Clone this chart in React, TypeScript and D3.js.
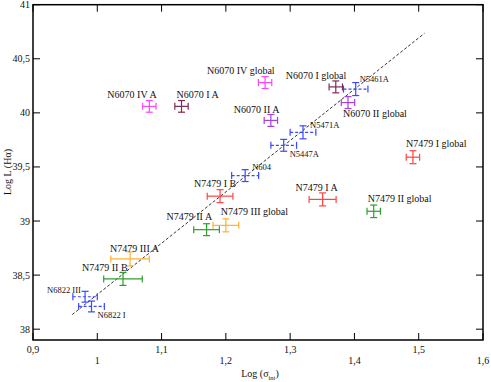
import React from 'react';
import * as d3 from 'd3';

// Log(sigma_int) vs Log L(H-alpha) for HII regions
const names = [
  'N6822 III', 'N6822 I', 'N604', 'N5447A', 'N5471A', 'N5461A',
  'N6070 IV A', 'N6070 I A', 'N6070 IV global', 'N6070 II A', 'N6070 I global', 'N6070 II global',
  'N7479 I global', 'N7479 I A', 'N7479 II global', 'N7479 I B', 'N7479 II A', 'N7479 III global',
  'N7479 III A', 'N7479 II B',
];
const logSigma = [0.981, 0.991, 1.230, 1.290, 1.320, 1.402, 1.081, 1.131, 1.261, 1.270, 1.371, 1.390, 1.491, 1.3505, 1.430, 1.191, 1.170, 1.200, 1.051, 1.040];
const logSigmaErr = [0.019, 0.02, 0.021, 0.02, 0.02, 0.019, 0.0104, 0.0104, 0.0104, 0.0104, 0.0104, 0.0104, 0.0104, 0.021, 0.0104, 0.02, 0.02, 0.02, 0.03, 0.03];
const logL = [38.30, 38.21, 39.42, 39.70, 39.82, 40.22, 40.06, 40.06, 40.28, 39.93, 40.24, 40.095, 39.59, 39.20, 39.09, 39.23, 38.92, 38.96, 38.65, 38.465];
const logLErr = [0.05, 0.05, 0.055, 0.055, 0.06, 0.06, 0.054, 0.054, 0.055, 0.055, 0.055, 0.055, 0.06, 0.06, 0.058, 0.06, 0.055, 0.06, 0.065, 0.06];
const groups = [
  'blue', 'blue', 'blue', 'blue', 'blue', 'blue',
  'n6070iv', 'n6070i', 'n6070iv', 'n6070ii', 'n6070i', 'n6070ii',
  'red', 'red', 'green', 'red', 'green', 'orange', 'orange', 'green',
];

// dashed fit line end points
const fitX = [0.961, 1.509];
const fitY = [38.135, 40.736];

const xTicks = [0.9, 1, 1.1, 1.2, 1.3, 1.4, 1.5, 1.6];
const yTicks = [38, 38.5, 39, 39.5, 40, 40.5, 41];

// label offsets in px from the point (text start, baseline)
const labelOffsets: [number, number][] = [
  [-38, -4], [6, 12], [7, -6], [6, 12], [7, -4], [4, -7],
  [-42, -8], [-5, -8], [-58, -9], [-37, -7], [-50, -8], [-5, 14],
  [-7, -10], [-27, -8], [-6, -9], [-26, -9], [-40, -10], [-5, -10],
  [-20, -7], [-41, -8],
];

const colors: Record<string, string> = {
  blue: '#3a48ff',
  n6070iv: '#ff44ff',
  n6070i: '#7f2a55',
  n6070ii: '#a83ee0',
  red: '#ff4444',
  green: '#2e9e2e',
  orange: '#ffb133',
};

const W = 491;
const H = 382;
const margin = { top: 4.7, right: 8, bottom: 42, left: 33 };
const fmt = (d: number) => String(d).replace('.', ',');

export default function App() {
  const x = d3.scaleLinear().domain([0.9, 1.6]).range([margin.left, W - margin.right]);
  const y = d3.scaleLinear().domain([37.9, 41]).range([H - margin.bottom, margin.top]);
  const x0 = margin.left, x1 = W - margin.right, y0 = H - margin.bottom, y1 = margin.top;
  const tick = 7;
  const font = 'Liberation Serif, Times New Roman, serif';

  const fitLine = d3.line<number>().x((d, i) => x(fitX[i])).y((d, i) => y(fitY[i]));

  return (
    <div style={{ position: 'fixed', left: 0, top: 0, background: 'white' }}>
      <svg width={W} height={H} style={{ display: 'block', fontFamily: font }}>
        <rect width={W} height={H} fill="white" />

        {/* fit */}
        <path d={fitLine(fitX) || ''} fill="none" stroke="#333" strokeWidth={1} strokeDasharray="3,2" />

        {/* error crosses */}
        {names.map((n, i) => {
          const cx = x(logSigma[i]);
          const cy = y(logL[i]);
          const xl = x(logSigma[i] - logSigmaErr[i]);
          const xr = x(logSigma[i] + logSigmaErr[i]);
          const yt = y(logL[i] + logLErr[i]);
          const yb = y(logL[i] - logLErr[i]);
          const c = colors[groups[i]];
          const dash = groups[i] === 'blue' ? '3,2' : undefined;
          const cap = 3.5;
          return (
            <g key={n} stroke={c} strokeWidth={1.2} fill="none">
              <line x1={xl} x2={xr} y1={cy} y2={cy} strokeDasharray={dash} />
              <line x1={cx} x2={cx} y1={yt} y2={yb} />
              <line x1={xl} x2={xl} y1={cy - cap} y2={cy + cap} />
              <line x1={xr} x2={xr} y1={cy - cap} y2={cy + cap} />
              <line x1={cx - cap} x2={cx + cap} y1={yt} y2={yt} />
              <line x1={cx - cap} x2={cx + cap} y1={yb} y2={yb} />
            </g>
          );
        })}

        {/* labels */}
        {names.map((n, i) => (
          <text
            key={'l' + n}
            x={x(logSigma[i]) + labelOffsets[i][0]}
            y={y(logL[i]) + labelOffsets[i][1]}
            fontSize={groups[i] === 'blue' ? 8.5 : 10}
            fill="#111"
          >
            {n}
          </text>
        ))}

        {/* frame */}
        <rect x={x0} y={y1} width={x1 - x0} height={y0 - y1} fill="none" stroke="#000" strokeWidth={1.5} />

        {/* x ticks */}
        {xTicks.map((t, i) => (
          <g key={'xt' + t}>
            <line x1={x(t)} x2={x(t)} y1={y0} y2={y0 - tick} stroke="#000" />
            <line x1={x(t)} x2={x(t)} y1={y1} y2={y1 + tick} stroke="#000" />
            <text x={x(t)} y={i % 2 === 0 ? 353 : 364} textAnchor="middle" fontSize={10} fill="#111">
              {fmt(t)}
            </text>
          </g>
        ))}

        {/* y ticks */}
        {yTicks.map(t => (
          <g key={'yt' + t}>
            <line x1={x0} x2={x0 + tick} y1={y(t)} y2={y(t)} stroke="#000" />
            <line x1={x1} x2={x1 - tick} y1={y(t)} y2={y(t)} stroke="#000" />
            <text x={x0 - 3} y={y(t) + 3.5} textAnchor="end" fontSize={10} fill="#111">
              {fmt(t)}
            </text>
          </g>
        ))}

        {/* axis titles */}
        <text x={260} y={377} textAnchor="middle" fontSize={10} fill="#111">
          Log (σ<tspan fontSize={6.5} dy={3}>int</tspan><tspan dy={-3}>)</tspan>
        </text>
        <text transform="translate(11,172) rotate(-90)" textAnchor="middle" fontSize={10} fill="#111">
          Log L (Hα)
        </text>
      </svg>
    </div>
  );
}
